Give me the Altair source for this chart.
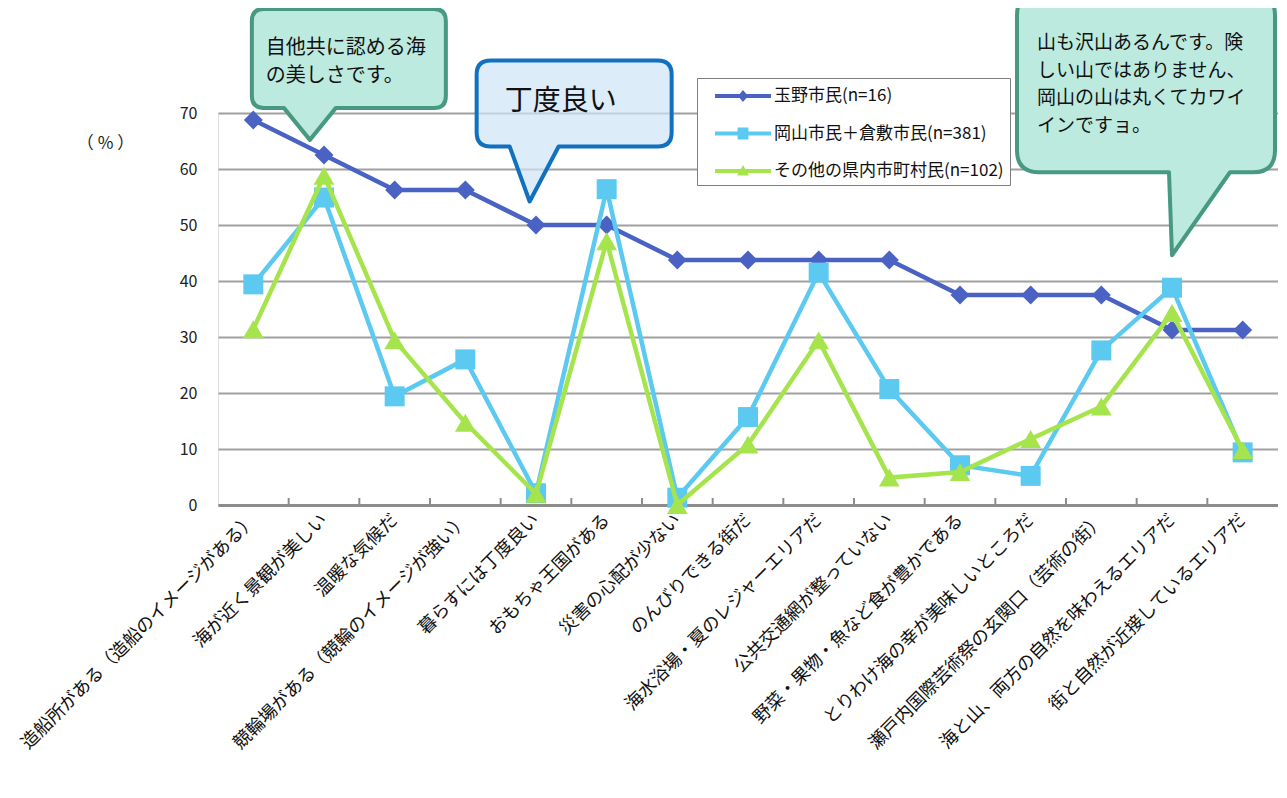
import json
import altair as alt
import pandas as pd

categories = [
    "造船所がある（造船のイメージがある）",
    "海が近く景観が美しい",
    "温暖な気候だ",
    "競輪場がある（競輪のイメージが強い）",
    "暮らすには丁度良い",
    "おもちゃ王国がある",
    "災害の心配が少ない",
    "のんびりできる街だ",
    "海水浴場・夏のレジャーエリアだ",
    "公共交通網が整っていない",
    "野菜・果物・魚など食が豊かである",
    "とりわけ海の幸が美味しいところだ",
    "瀬戸内国際芸術祭の玄関口（芸術の街）",
    "海と山、両方の自然を味わえるエリアだ",
    "街と自然が近接しているエリアだ",
]
series_names = ["玉野市民(n=16)", "岡山市民＋倉敷市民(n=381)", "その他の県内市町村民(n=102)"]
tamano = [68.75, 62.5, 56.25, 56.25, 50.0, 50.0, 43.75, 43.75, 43.75, 43.75, 37.5, 37.5, 37.5, 31.25, 31.25]
okayama_kurashiki = [39.4, 54.9, 19.4, 26.0, 2.1, 56.4, 1.3, 15.7, 41.5, 20.7, 7.1, 5.2, 27.6, 38.8, 9.4]
others = [31.4, 58.8, 29.4, 14.7, 2.0, 47.1, 0.0, 10.8, 29.4, 4.9, 5.9, 11.8, 17.6, 34.3, 9.8]
series_values = [tamano, okayama_kurashiki, others]
series_colors = ["#4A62C4", "#5CC9F1", "#A5E44C"]
marker_shapes = ["diamond", "square", "triangle-up"]
marker_sizes = [360, 400, 430]
y_ticks = [0, 10, 20, 30, 40, 50, 60, 70]
tick_positions = [i + 0.5 for i in range(len(categories) - 1)]

# legend symbols: line segment + marker (unit coords scaled by sqrt(size)/2)
legend_paths = [
    "M-2.33,-0.17H2.33V0.17H-2.33Z M0,-0.5L0.42,0L0,0.5L-0.42,0Z",
    "M-2.33,-0.17H2.33V0.17H-2.33Z M-0.45,-0.5H0.45V0.5H-0.45Z",
    "M-2.33,-0.17H2.33V0.17H-2.33Z M0,-0.5L0.5,0.38H-0.5Z",
]

# callouts (anchor = pointer tip in data coordinates)
callout_x = [0.80, 3.91, 13.0]
callout_y = [65.2, 54.2, 44.6]
callout_text = [
    "自他共に認める海\nの美しさです。",
    "丁度良い",
    "山も沢山あるんです。険\nしい山ではありません、\n岡山の山は丸くてカワイ\nインですョ。",
]

rows = []
for s, vals in zip(series_names, series_values):
    for i, (c, v) in enumerate(zip(categories, vals)):
        rows.append({"idx": i, "cat": c, "series": s, "value": v})
df = pd.DataFrame(rows)

label_expr = "(datum.value >= 0 && datum.value <= 14) ? " + json.dumps(categories, ensure_ascii=False) + "[datum.value] : ''"

x_enc = alt.X(
    "idx:Q",
    scale=alt.Scale(domain=[-0.5, 14.5], nice=False, zero=False),
    axis=alt.Axis(
        title=None, values=list(range(15)), labelExpr=label_expr, labelAngle=-45,
        labelAlign="right", labelBaseline="middle", labelPadding=12, labelFontSize=18,
        labelColor="#111", labelFlush=False, labelOverlap=False, labelBound=False,
        labelLimit=600, ticks=False, grid=False, domain=True, domainColor="#8c8c8c",
        domainWidth=3,
    ),
)
y_enc = alt.Y(
    "value:Q",
    scale=alt.Scale(domain=[0, 70], nice=False),
    axis=alt.Axis(
        title="（ % ）", titleAngle=0, titleX=-113, titleY=30, titleAlign="center",
        titleBaseline="middle", titleFontSize=17, titleFontWeight="normal", titleColor="#222",
        values=y_ticks, labelFontSize=16, labelColor="#222", labelPadding=21,
        ticks=False, domain=False, grid=True, gridColor="#a0a0a0", gridWidth=2,
    ),
)

layers = []

tick_df = pd.DataFrame({"idx": tick_positions})
layers.append(
    alt.Chart(tick_df).mark_rule(color="#8c8c8c", strokeWidth=2).encode(
        x=alt.X("idx:Q"), y=alt.datum(0), y2=alt.value(385)
    )
)

for s, col, shp, sz in zip(series_names, series_colors, marker_shapes, marker_sizes):
    sub = df[df["series"] == s]
    layers.append(
        alt.Chart(sub).mark_line(color=col, strokeWidth=4.5).encode(x=x_enc, y=y_enc, order="idx:Q")
    )
    layers.append(
        alt.Chart(sub).mark_point(shape=shp, size=sz, filled=True, color=col, opacity=1).encode(x=x_enc, y=y_enc)
    )

leg = alt.Legend(
    title=None, orient="none", legendX=479, legendY=-35, direction="vertical",
    symbolSize=576, symbolStrokeWidth=0, symbolOffset=28, labelOffset=19, rowPadding=17.5,
    padding=6, strokeColor="#7f7f7f", fillColor="white", labelFontSize=17, labelColor="#111",
    symbolOpacity=1, labelLimit=400, labelExpr="datum.label + '\u3000\u3000'",
)
layers.append(
    alt.Chart(df).transform_filter("datum.value < -999").mark_point(filled=True, opacity=1, size=576).encode(
        x=x_enc, y=y_enc,
        color=alt.Color("series:N", scale=alt.Scale(domain=series_names, range=series_colors), legend=leg),
        shape=alt.Shape("series:N", scale=alt.Scale(domain=series_names, range=legend_paths), legend=leg),
    )
)

bubble_paths = [
    "M-26,-32L0,0L26,-32H124Q136,-32 136,-44V-119Q136,-131 124,-131H-46Q-58,-131 -58,-119V-44Q-58,-32 -46,-32Z",
    "M-20,-55L0,0L29,-55H128Q142,-55 142,-69V-127Q142,-141 128,-141H-39Q-53,-141 -53,-127V-69Q-53,-55 -39,-55Z",
    "M-3,-83L0,0L58,-83H81Q103,-83 103,-105V-240Q103,-262 81,-262H-133Q-155,-262 -155,-240V-105Q-155,-83 -133,-83Z",
]
bubble_fill = ["#BDEADF", "#CEE4F6", "#BDEADF"]
bubble_fill_opacity = [1, 0.7, 1]
bubble_stroke = ["#479A80", "#1170BF", "#479A80"]
text_style = [
    dict(align="left", baseline="top", dx=-44, dy=-102, fontSize=20, lineHeight=28),
    dict(align="center", baseline="middle", dx=31, dy=-99, fontSize=28, lineHeight=30),
    dict(align="left", baseline="top", dx=-135, dy=-221, fontSize=19, lineHeight=27.5),
]
for i in range(3):
    bdf = pd.DataFrame({"idx": [callout_x[i]], "value": [callout_y[i]], "text": [callout_text[i]]})
    layers.append(
        alt.Chart(bdf).mark_point(
            shape=bubble_paths[i], size=4, filled=True, fill=bubble_fill[i],
            fillOpacity=bubble_fill_opacity[i], stroke=bubble_stroke[i], strokeWidth=4,
            strokeOpacity=1, opacity=1, strokeJoin="round",
        ).encode(x=x_enc, y=y_enc)
    )
    layers.append(
        alt.Chart(bdf).mark_text(color="#111", lineBreak="\n", **text_style[i]).encode(
            x=x_enc, y=y_enc, text="text:N"
        )
    )

chart = alt.layer(*layers).properties(
    width=1060, height=392,
    padding={"left": 210, "top": 105, "right": 0, "bottom": 282},
    autosize=alt.AutoSizeParams(type="none"),
).configure_view(stroke=None).configure(font="Noto Sans CJK JP")

chart.save("out.html", embed_options={"renderer": "svg", "actions": False})
